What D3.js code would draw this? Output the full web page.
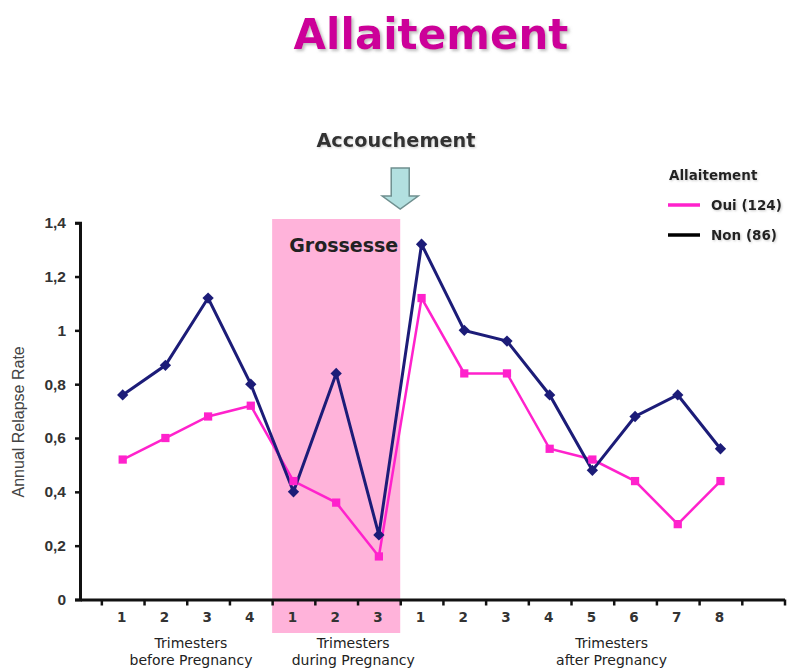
<!DOCTYPE html>
<html>
<head>
<meta charset="utf-8">
<script src="https://cdn.jsdelivr.net/npm/d3@7"></script>
<style>
  body { margin: 0; background: #fff; }
  svg { display: block; }
</style>
</head>
<body>
<div id="root"></div>
<script>
// data
const tickLabels = ["1", "2", "3", "4", "1", "2", "3", "1", "2", "3", "4", "5", "6", "7", "8"]
const ouiValues = [0.52, 0.60, 0.68, 0.72, 0.44, 0.36, 0.16, 1.12, 0.84, 0.84, 0.56, 0.52, 0.44, 0.28, 0.44]
const nonValues = [0.76, 0.87, 1.12, 0.80, 0.40, 0.84, 0.24, 1.32, 1.00, 0.96, 0.76, 0.48, 0.68, 0.76, 0.56]
const yTickValues = [0, 0.2, 0.4, 0.6, 0.8, 1, 1.2, 1.4]
const periodLabels = [
  ["Trimesters", "before Pregnancy"],
  ["Trimesters", "during Pregnancy"],
  ["Trimesters", "after Pregnancy"],
]
const seriesNames = ["Oui (124)", "Non (86)"]

function drawChart() {
  const width = 795
  const height = 671
  const margin = { left: 80, right: 10.5, top: 222.7, bottom: 71.5 }

  const svg = d3.select("#root").append("svg")
    .attr("width", width)
    .attr("height", height)

  const defs = svg.append("defs")
  defs.append("filter").attr("id", "shadow")
    .attr("x", "-10%").attr("y", "-20%").attr("width", "130%").attr("height", "160%")
    .append("feDropShadow")
    .attr("dx", 2).attr("dy", 2).attr("stdDeviation", 1.5)
    .attr("flood-color", "#888").attr("flood-opacity", 0.55)
  defs.append("filter").attr("id", "shadowSmall")
    .attr("x", "-10%").attr("y", "-20%").attr("width", "130%").attr("height", "160%")
    .append("feDropShadow")
    .attr("dx", 1).attr("dy", 1).attr("stdDeviation", 0.8)
    .attr("flood-color", "#999").attr("flood-opacity", 0.5)

  const xScale = d3.scaleLinear()
    .domain([0, 16.5])
    .range([margin.left, width - margin.right])

  const yScale = d3.scaleLinear()
    .domain([0, 1.4])
    .range([height - margin.bottom, margin.top])

  // pregnancy band
  svg.append("rect")
    .attr("x", xScale(4.5))
    .attr("y", 219)
    .attr("width", xScale(7.5) - xScale(4.5))
    .attr("height", 633 - 219)
    .attr("fill", "#ffb3da")

  // title
  svg.append("text")
    .attr("x", 431)
    .attr("y", 49)
    .attr("text-anchor", "middle")
    .attr("fill", "#cc0099")
    .attr("font-family", "DejaVu Sans")
    .attr("font-weight", "bold")
    .attr("font-size", 42)
    .attr("filter", "url(#shadow)")
    .text("Allaitement")

  svg.append("text")
    .attr("x", 396)
    .attr("y", 147)
    .attr("text-anchor", "middle")
    .attr("fill", "#333")
    .attr("font-family", "DejaVu Sans")
    .attr("font-weight", "bold")
    .attr("font-size", 19.3)
    .attr("filter", "url(#shadowSmall)")
    .text("Accouchement")

  // arrow
  const ax = xScale(7.5)
  const arrow = d3.path()
  arrow.moveTo(ax - 9, 168)
  arrow.lineTo(ax + 9, 168)
  arrow.lineTo(ax + 9, 196)
  arrow.lineTo(ax + 18, 196)
  arrow.lineTo(ax, 209)
  arrow.lineTo(ax - 18, 196)
  arrow.lineTo(ax - 9, 196)
  arrow.closePath()
  svg.append("path")
    .attr("d", arrow.toString())
    .attr("fill", "#b2e0e0")
    .attr("stroke", "#6f8f8f")
    .attr("stroke-width", 1.5)

  svg.append("text")
    .attr("x", xScale(7.5) - 2)
    .attr("y", 252)
    .attr("text-anchor", "end")
    .attr("fill", "#222")
    .attr("font-family", "DejaVu Sans")
    .attr("font-weight", "bold")
    .attr("font-size", 19)
    .text("Grossesse")

  // axes
  const yAxis = svg.append("g")
    .attr("transform", `translate(${margin.left},0)`)
    .call(d3.axisLeft(yScale)
      .tickValues(yTickValues)
      .tickSize(5)
      .tickPadding(9)
      .tickFormat(d => d3.format(".1~f")(d).replace(".", ",")))
  yAxis.select(".domain").attr("stroke", "#111").attr("stroke-width", 3)
  yAxis.selectAll(".tick line").attr("stroke", "#111").attr("stroke-width", 2.5)
  yAxis.selectAll(".tick text")
    .attr("fill", "#333")
    .attr("font-family", "Liberation Sans")
    .attr("font-weight", "bold")
    .attr("font-size", 15.5)

  const xTicks = d3.range(0.5, 16.6, 1)
  const xAxis = svg.append("g")
    .attr("transform", `translate(0,${yScale(0)})`)
    .call(d3.axisBottom(xScale)
      .tickValues(xTicks)
      .tickSizeInner(6)
      .tickSizeOuter(0)
      .tickFormat(""))
  xAxis.select(".domain").attr("stroke", "#111").attr("stroke-width", 3)
  xAxis.selectAll(".tick line").attr("stroke", "#111").attr("stroke-width", 2.5)

  svg.append("g")
    .selectAll("text")
    .data(tickLabels)
    .join("text")
    .attr("x", (d, i) => xScale(i + 1) - 1)
    .attr("y", 622)
    .attr("text-anchor", "middle")
    .attr("fill", "#333")
    .attr("font-family", "DejaVu Sans")
    .attr("font-weight", "bold")
    .attr("font-size", 13.5)
    .text(d => d)

  const periodCenters = [2.6, 6.4, 12.45]
  const periods = svg.append("g")
    .selectAll("text")
    .data(periodLabels)
    .join("text")
    .attr("x", (d, i) => xScale(periodCenters[i]))
    .attr("y", 648)
    .attr("text-anchor", "middle")
    .attr("fill", "#222")
    .attr("font-family", "DejaVu Sans")
    .attr("font-size", 14)
  periods.selectAll("tspan")
    .data(d => d)
    .join("tspan")
    .attr("x", function () { return d3.select(this.parentNode).attr("x") })
    .attr("dy", (d, i) => i === 0 ? 0 : 16.5)
    .text(d => d)

  svg.append("text")
    .attr("transform", `translate(24,${yScale(0.66)}) rotate(-90)`)
    .attr("text-anchor", "middle")
    .attr("fill", "#444")
    .attr("font-family", "Liberation Sans")
    .attr("font-size", 16)
    .text("Annual Relapse Rate")

  // lines
  const line = d3.line()
    .x((d, i) => xScale(i + 1))
    .y(d => yScale(d))

  const ouiColor = "#ff22cc"
  const nonColor = "#1c1c78"

  svg.append("path")
    .datum(ouiValues)
    .attr("d", line)
    .attr("fill", "none")
    .attr("stroke", ouiColor)
    .attr("stroke-width", 2.5)

  svg.append("path")
    .datum(nonValues)
    .attr("d", line)
    .attr("fill", "none")
    .attr("stroke", nonColor)
    .attr("stroke-width", 3)

  svg.append("g")
    .selectAll("path")
    .data(ouiValues)
    .join("path")
    .attr("transform", (d, i) => `translate(${xScale(i + 1)},${yScale(d)})`)
    .attr("d", d3.symbol(d3.symbolSquare, 68))
    .attr("fill", ouiColor)

  svg.append("g")
    .selectAll("path")
    .data(nonValues)
    .join("path")
    .attr("transform", (d, i) => `translate(${xScale(i + 1)},${yScale(d)}) rotate(45)`)
    .attr("d", d3.symbol(d3.symbolSquare, 64))
    .attr("fill", nonColor)

  // legend
  const legend = svg.append("g")
  legend.append("text")
    .attr("x", 669)
    .attr("y", 180)
    .attr("fill", "#222")
    .attr("font-family", "DejaVu Sans")
    .attr("font-weight", "bold")
    .attr("font-size", 13.5)
    .attr("filter", "url(#shadowSmall)")
    .text("Allaitement")

  const legendColors = [ouiColor, "#000"]
  const rows = legend.selectAll("g.row")
    .data(seriesNames)
    .join("g")
    .attr("class", "row")
    .attr("transform", (d, i) => `translate(0,${205 + i * 30})`)
  rows.append("line")
    .attr("x1", 668).attr("x2", 700)
    .attr("stroke", (d, i) => legendColors[i])
    .attr("stroke-width", 3.5)
  rows.append("text")
    .attr("x", 711)
    .attr("y", 5)
    .attr("fill", "#222")
    .attr("font-family", "DejaVu Sans")
    .attr("font-weight", "bold")
    .attr("font-size", 13.5)
    .attr("filter", "url(#shadowSmall)")
    .text(d => d)
}

drawChart()
</script>
</body>
</html>
